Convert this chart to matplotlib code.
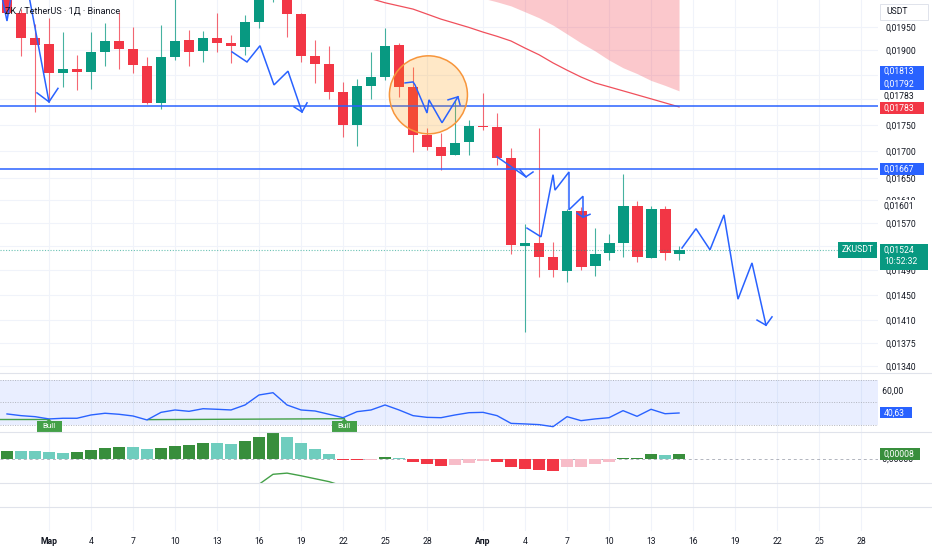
import matplotlib
matplotlib.use("Agg")
import matplotlib.pyplot as plt
import numpy as np
import pandas as pd
from matplotlib.patches import Rectangle, Circle, Polygon
from matplotlib.ticker import NullLocator
from matplotlib.transforms import ScaledTranslation, blended_transform_factory

plt.rcParams["font.family"] = ["Roboto", "DejaVu Sans"]

# ---- data ----
dates = pd.date_range("2025-02-26", "2025-04-15")
days = (dates - pd.Timestamp("2025-03-01")).days.to_numpy()

open_ = [0.02030, 0.01980, 0.01926, 0.01914, 0.01853, 0.01861, 0.01855, 0.01897, 0.01920, 0.01903,
         0.01868, 0.01792, 0.01886, 0.01922, 0.01899, 0.01926, 0.01916, 0.01907, 0.01961, 0.02040,
         0.02085, 0.01978, 0.01888, 0.01872, 0.01815, 0.01750, 0.01826, 0.01846, 0.01912, 0.01825,
         0.01730, 0.01707, 0.01692, 0.01717, 0.01748, 0.01746, 0.01687, 0.01530, 0.01535, 0.01512,
         0.01489, 0.01591, 0.01497, 0.01519, 0.01535, 0.01599, 0.01510, 0.01595, 0.01517]
close = [0.01980, 0.01926, 0.01912, 0.01853, 0.01861, 0.01855, 0.01897, 0.01920, 0.01903, 0.01870,
         0.01792, 0.01886, 0.01920, 0.01897, 0.01926, 0.01916, 0.01909, 0.01961, 0.02040, 0.02090,
         0.01978, 0.01888, 0.01872, 0.01815, 0.01750, 0.01826, 0.01846, 0.01909, 0.01825, 0.01730,
         0.01707, 0.01690, 0.01715, 0.01748, 0.01746, 0.01687, 0.01532, 0.01535, 0.01512, 0.01490,
         0.01591, 0.01495, 0.01517, 0.01535, 0.01600, 0.01512, 0.01595, 0.01518, 0.01524]
high = [0.02060, 0.01990, 0.01956, 0.01969, 0.01939, 0.01890, 0.01939, 0.01959, 0.01983, 0.01950,
        0.01886, 0.01954, 0.02030, 0.01944, 0.01941, 0.01980, 0.01933, 0.01976, 0.02080, 0.02120,
        0.02110, 0.01980, 0.01922, 0.01909, 0.01835, 0.01841, 0.01897, 0.01948, 0.01916, 0.01866,
        0.01744, 0.01734, 0.01799, 0.01759, 0.01813, 0.01773, 0.01706, 0.01568, 0.01744, 0.01537,
        0.01595, 0.01597, 0.01561, 0.01551, 0.01658, 0.01609, 0.01599, 0.01599, 0.01530]
low = [0.01976, 0.01888, 0.01775, 0.01795, 0.01825, 0.01819, 0.01821, 0.01868, 0.01861, 0.01853,
       0.01790, 0.01781, 0.01880, 0.01868, 0.01876, 0.01897, 0.01874, 0.01891, 0.01948, 0.02005,
       0.01928, 0.01876, 0.01833, 0.01801, 0.01727, 0.01709, 0.01801, 0.01839, 0.01805, 0.01698,
       0.01702, 0.01665, 0.01692, 0.01692, 0.01740, 0.01674, 0.01517, 0.01392, 0.01479, 0.01479,
       0.01470, 0.01490, 0.01481, 0.01507, 0.01512, 0.01503, 0.01510, 0.01507, 0.01507]

ma_days = list(range(23, 46))
ma_vals = [0.02012, 0.02003, 0.01996, 0.01989, 0.01978, 0.01967, 0.01958, 0.01949, 0.01939, 0.01930,
           0.01920, 0.01905, 0.01891, 0.01874, 0.01859, 0.01845, 0.01833, 0.01825, 0.01817, 0.01809,
           0.01801, 0.01793, 0.01785]

cloud_days = list(range(31, 46))
cloud_lower = [0.02013, 0.02005, 0.01996, 0.01983, 0.01970, 0.01954, 0.01935, 0.01916, 0.01899,
               0.01880, 0.01864, 0.01852, 0.01838, 0.01828, 0.01817]
cloud_top = 0.0206

level_prices = [0.01787, 0.01667]
last_price = 0.01524

# hand-drawn zigzags (day, price)
drawings = [
    [(-1.5, 0.0203), (0.0, 0.01795)],
    [(-0.86, 0.01813), (0.0, 0.01795), (0.64, 0.01822)],
    [(-3.36, 0.02016), (-3.0, 0.01963), (-2.71, 0.02016)],
    [(13.07, 0.01897), (14.14, 0.01876), (15.07, 0.01910), (16.07, 0.01829), (17.07, 0.01857), (18.07, 0.01775)],
    [(17.5, 0.01785), (18.07, 0.01775), (18.43, 0.01793)],
    [(25.43, 0.01833), (26.0, 0.01835), (26.14, 0.01829), (27.0, 0.01773), (27.14, 0.01799), (28.07, 0.01754), (29.21, 0.01805)],
    [(28.5, 0.01799), (29.21, 0.01805), (29.36, 0.01789)],
    [(32.0, 0.01689), (34.07, 0.01652)],
    [(33.64, 0.01665), (34.07, 0.01652), (34.57, 0.01661)],
    [(34.14, 0.01561), (35.14, 0.01546), (36.0, 0.01656), (36.14, 0.01628), (37.14, 0.01661), (37.14, 0.01593), (38.14, 0.01617), (38.14, 0.01580)],
    [(37.71, 0.01587), (38.14, 0.01580), (38.64, 0.01585)],
    [(45.21, 0.01527), (46.21, 0.01560), (47.21, 0.01524), (48.21, 0.01584), (49.21, 0.01443), (50.21, 0.01502), (51.21, 0.01402)],
    [(50.57, 0.01410), (51.21, 0.01402), (51.64, 0.01415)],
]
circle_center = (27.1, 0.01809)

price_ticks = [0.0195, 0.0190, 0.0175, 0.0170, 0.0165, 0.0161, 0.0157, 0.0149, 0.0145, 0.0141, 0.01375, 0.0134]
price_labels = ["0,01950", "0,01900", "0,01750", "0,01700", "0,01650", "0,01610", "0,01570",
                "0,01490", "0,01450", "0,01410", "0,01375", "0,01340"]
grid_prices = price_ticks + [0.0185, 0.0180, 0.0153]

# price-scale tags: position, text, fill colour, text colour
tag_pos = [0.01856, 0.01831, 0.01807, 0.01783, 0.01667, 0.01600]
tag_text = ["0,01813", "0,01792", "0,01783", "0,01783", "0,01667", "0,01601"]
tag_fill = ["#2962FF", "#2962FF", "white", "#F23645", "#2962FF", "white"]
tag_color = ["white", "white", "#131722", "white", "white", "#131722"]

rsi = [39.8, 38.3, 37.4, 35.4, 36.0, 36.0, 38.9, 40.4, 39.5, 38.0, 34.5, 41.2, 43.3, 42.1, 44.4, 43.9,
       43.3, 47.7, 56.5, 58.5, 47.7, 43.3, 42.4, 39.5, 36.5, 41.8, 43.3, 47.7, 43.3, 38.3, 36.8, 36.5,
       38.9, 40.9, 41.2, 38.3, 31.5, 31.0, 30.4, 28.6, 37.4, 33.9, 35.4, 36.5, 42.7, 37.7, 43.9, 40.0, 40.63]
div_lines = [[(-3.5, 35.4), (0.0, 35.4)], [(7.07, 34.8), (21.1, 35.6)]]
bull_at = [(0.0, 35.4), (21.1, 35.6)]

hist = np.array([14.1, 14.0, 13.9, 11.4, 10.7, 11.4, 15.3, 19.2, 20.9, 20.4, 16.5, 19.2, 22.6, 23.8,
                 26.7, 26.7, 26.0, 30.1, 36.9, 44.7, 36.9, 26.7, 17.0, 8.5, -1.7, -2.2, -1.7, 3.9,
                 2.2, -4.6, -8.5, -11.9, -10.2, -6.3, -2.9, -4.6, -13.1, -17.0, -18.7, -20.4, -13.1,
                 -13.1, -9.0, -5.1, 1.7, 1.9, 8.0, 7.3, 8.0]) * 1e-5
macd_days = [14, 15, 16, 17, 18, 19, 20, 21]
macd_line = np.array([-58, -43, -26, -24, -28.5, -33.5, -38.5, -46]) * 1e-5

tick_days = [0, 3, 6, 9, 12, 15, 18, 21, 24, 27, 31, 34, 37, 40, 43, 46, 49, 52, 55, 58]
tick_labels = ["Мар", "4", "7", "10", "13", "16", "19", "22", "25", "28",
               "Апр", "4", "7", "10", "13", "16", "19", "22", "25", "28"]

# ---- style ----
GREEN = "#089981"
RED = "#F23645"
BLUE = "#2962FF"
TXT = "#131722"
GRID = "#F0F3FA"
SEP = "#E0E3EB"
W, H = 932, 550
XR = 878 / W
xlim = (-3.5, 59.21)

fig = plt.figure(figsize=(W / 100, H / 100), dpi=100)
fig.patch.set_facecolor("white")


def pane(top_px, bot_px):
    a = fig.add_axes([0, 1 - bot_px / H, XR, (bot_px - top_px) / H])
    a.set_xlim(*xlim)
    for s in a.spines.values():
        s.set_visible(False)
    a.set_xticks([])
    a.set_yticks([])
    for d in tick_days:
        a.axvline(d, color=GRID, lw=0.8, zorder=0)
    return a


def tag(a, value, text, fc, tc, x0=2, w=44, h=12, size=6.2):
    off = ScaledTranslation(1.0, value, blended_transform_factory(a.transAxes, a.transData))
    a.add_patch(Rectangle((x0, -h / 2), w, h, transform=off, fc=fc, ec="none",
                          clip_on=False, zorder=9))
    a.text(x0 + 4, 0, text, transform=off, fontsize=size, color=tc, va="center",
           ha="left", clip_on=False, zorder=10)


# ---- main price pane ----
ax = pane(0, 373)
ax.set_yscale("log")
ax.set_ylim(0.013298, 0.020091)
for p in grid_prices:
    ax.axhline(p, color=GRID, lw=0.8, zorder=0)
ax.yaxis.tick_right()
ax.set_yticks(price_ticks, price_labels)
ax.yaxis.set_minor_locator(NullLocator())
ax.tick_params(axis="y", length=0, pad=5.5, labelsize=6.2, labelcolor=TXT)

op, cl = np.array(open_), np.array(close)
cols = np.where(cl >= op, GREEN, RED)
ax.vlines(days, low, high, colors=cols, lw=0.8, alpha=0.75, zorder=2)
ax.bar(days, np.abs(cl - op), bottom=np.minimum(op, cl), width=0.78, color=cols, lw=0, zorder=2)

ax.fill_between(cloud_days, cloud_lower, cloud_top, color=RED, alpha=0.27, lw=0, zorder=1)
ax.plot(ma_days, ma_vals, color="#F0505C", lw=0.9, zorder=2.5)

for p in level_prices:
    ax.axhline(p, color=BLUE, lw=1.1, zorder=3)
ax.axhline(last_price, color=GREEN, lw=0.8, ls=(0, (1, 1.5)), alpha=0.6, zorder=2.6)

circ_tr = fig.dpi_scale_trans + ScaledTranslation(circle_center[0], circle_center[1], ax.transData)
ax.add_patch(Circle((0, 0), 0.39, transform=circ_tr, fc=(1, 0.6, 0, 0.22), ec="#F7953B", lw=1.1, zorder=3.5))

for seg in drawings:
    xs, ys = zip(*seg)
    ax.plot(xs, ys, color=BLUE, lw=1.1, zorder=4, solid_joinstyle="miter")

for p, t, fc, tc in zip(tag_pos, tag_text, tag_fill, tag_color):
    tag(ax, p, t, fc, tc)

# last price tag + symbol tag
off = ScaledTranslation(1.0, last_price, blended_transform_factory(ax.transAxes, ax.transData))
ax.add_patch(Rectangle((2, -20), 48, 26, transform=off, fc=GREEN, ec="none", clip_on=False, zorder=9))
ax.text(6, 0, "0,01524", transform=off, fontsize=6.2, color="white", va="center", clip_on=False, zorder=10)
ax.text(6, -12, "10:52:32", transform=off, fontsize=6.2, color="white", va="center", clip_on=False, zorder=10)
ax.add_patch(Rectangle((-40, -8), 39, 16, transform=off, fc=GREEN, ec="none", clip_on=False, zorder=9))
ax.text(-20.5, 0, "ZKUSDT", transform=off, fontsize=6.2, color="white", va="center", ha="center",
        clip_on=False, zorder=10)

fig.text(5 / W, 1 - 11 / H, "ZK / TetherUS · 1Д · Binance", fontsize=6.6, color=TXT, va="center")
fig.patches.append(Rectangle((880 / W, 1 - 20 / H), 48 / W, 16 / H, transform=fig.transFigure,
                             fc="white", ec=SEP, lw=0.7))
fig.text(886 / W, 1 - 12 / H, "USDT", fontsize=6.2, color=TXT, va="center")

# ---- RSI pane ----
ax_r = pane(373, 432)
ax_r.set_ylim(23.9, 75.85)
ax_r.axhspan(30, 70, color=BLUE, alpha=0.1, lw=0, zorder=0.5)
for lv in (70, 50, 30):
    ax_r.axhline(lv, color="#B2B5BE", lw=0.7, ls=(0, (1, 1.5)), zorder=1)
ax_r.plot(days, rsi, color=BLUE, lw=1.0, zorder=3)
for seg in div_lines:
    xs, ys = zip(*seg)
    ax_r.plot(xs, ys, color="#43A047", lw=1.0, zorder=2.5)
for bx, by in bull_at:
    btr = ScaledTranslation(bx, by, ax_r.transData)
    ax_r.add_patch(Rectangle((-12.5, -13), 25, 11, transform=btr, fc="#43A047", ec="none",
                             clip_on=False, zorder=5))
    ax_r.add_patch(Polygon([(-3, -2.5), (3, -2.5), (0, 0)], transform=btr, fc="#43A047",
                           ec="none", clip_on=False, zorder=5))
    ax_r.text(0, -7.5, "Bull", transform=btr, fontsize=5.8, color="white", ha="center",
              va="center", clip_on=False, zorder=6)
ax_r.text(1.0, 60, "  60,00", transform=blended_transform_factory(ax_r.transAxes, ax_r.transData),
          fontsize=6.2, color=TXT, va="center", clip_on=False)
tag(ax_r, 40.63, "40,63", BLUE, "white", w=32, h=11)

# ---- MACD pane ----
ax_m = pane(432, 483)
ax_m.set_ylim(-40.8e-5, 45.9e-5)
ax_m.axhline(0, color="#B2B5BE", lw=0.7, ls=(0, (3, 3)), zorder=1)
hcols = []
for i, h in enumerate(hist):
    prev = hist[i - 1] if i > 0 else -1
    if h >= 0:
        hcols.append("#388E3C" if h > prev else "#6FCDBE")
    else:
        hcols.append("#F23645" if h < prev else "#F7BCC8")
ax_m.bar(days, hist, width=0.92, color=hcols, lw=0, zorder=2)
ax_m.plot(macd_days, macd_line, color="#43A047", lw=1.0, zorder=3)
ax_m.text(1.0, 0, "  0,00000", transform=blended_transform_factory(ax_m.transAxes, ax_m.transData),
          fontsize=6.2, color=TXT, va="center", clip_on=False)
tag(ax_m, hist[-1], "0,00008", "#388E3C", "white", w=40, h=12)

# ---- bottom pane with time axis ----
ax_b = pane(483, 531)
ax_b.set_xticks(tick_days, tick_labels)
ax_b.tick_params(axis="x", length=0, pad=4.0, labelsize=6.2, labelcolor=TXT)
for lab in ax_b.get_xticklabels():
    if lab.get_text() in ("Мар", "Апр"):
        lab.set_fontweight("bold")

for ypx in (373, 432, 483, 507):
    fig.add_artist(plt.Line2D([0, 1], [1 - ypx / H] * 2, transform=fig.transFigure, color=SEP, lw=0.8))

fig.savefig("out.png", dpi=100)
